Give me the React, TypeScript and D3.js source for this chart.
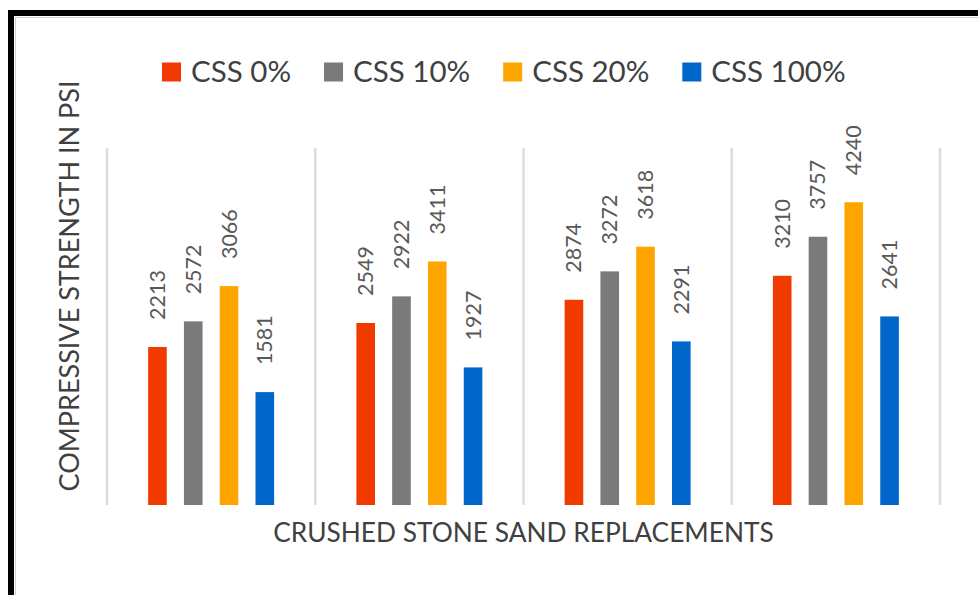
import * as d3 from 'd3';
import { useEffect, useRef } from 'react';

const categories = ['0', '1', '2', '3'];
const seriesNames = ['CSS 0%', 'CSS 10%', 'CSS 20%', 'CSS 100%'];
const colors = ['#F03A00', '#7A7A7A', '#FFA500', '#0066CC'];
const css0 = [2213, 2549, 2874, 3210];
const css10 = [2572, 2922, 3272, 3757];
const css20 = [3066, 3411, 3618, 4240];
const css100 = [1581, 1927, 2291, 2641];
const yTitle = 'COMPRESSIVE STRENGTH IN PSI';
const xTitle = 'CRUSHED STONE SAND REPLACEMENTS';

const font = 'Lato, "Open Sans", sans-serif';

const drawChart = (container: HTMLElement) => {
  const width = 978;
  const height = 595;
  const left = 107;
  const right = 940;
  const top = 148;
  const bottom = 505;
  const series = [css0, css10, css20, css100];

  const x0 = d3.scaleBand().domain(categories).range([left, right]).padding(0);
  const x1 = d3.scaleBand().domain(seriesNames)
    .range([0, x0.bandwidth()])
    .paddingInner(0.48)
    .paddingOuter(1.15);
  const y = d3.scaleLinear().domain([0, 5000]).range([bottom, top]);

  const svg = d3.select(container).append('svg')
    .attr('width', width)
    .attr('height', height)
    .attr('viewBox', `0 0 ${width} ${height}`)
    .style('position', 'absolute')
    .style('left', '0px')
    .style('top', '0px')
    .style('background', '#fff');

  // outer frame (cut off at right and bottom)
  svg.append('rect')
    .attr('x', 11).attr('y', 13)
    .attr('width', 1000).attr('height', 620)
    .attr('fill', '#fff')
    .attr('stroke', '#000')
    .attr('stroke-width', 6);
  svg.append('path')
    .attr('d', 'M15,17.5H978M15.5,17V595')
    .attr('stroke', '#d0d0d0')
    .attr('stroke-width', 1);

  // vertical gridlines at category boundaries
  const bounds = categories.map(c => x0(c) as number).concat([right]);
  svg.append('g').selectAll('line').data(bounds).join('line')
    .attr('x1', d => d).attr('x2', d => d)
    .attr('y1', top).attr('y2', bottom)
    .attr('stroke', '#DCDCDC')
    .attr('stroke-width', 2.5);

  const groups = svg.append('g').selectAll('g').data(categories).join('g')
    .attr('transform', c => `translate(${x0(c)},0)`);

  seriesNames.forEach((name, si) => {
    const vals = series[si];
    groups.append('rect')
      .attr('x', x1(name) as number)
      .attr('y', (c, i) => y(vals[i]))
      .attr('width', x1.bandwidth())
      .attr('height', (c, i) => bottom - y(vals[i]))
      .attr('fill', colors[si]);
    groups.append('text')
      .attr('transform', (c, i) =>
        `translate(${(x1(name) as number) + x1.bandwidth() / 2 + 7.5},${y(vals[i]) - 27}) rotate(-90)`)
      .attr('font-family', font)
      .attr('font-size', 21.5)
      .attr('fill', '#595959')
      .text((c, i) => String(vals[i]));
  });

  // legend
  const legend = svg.append('g');
  let lx = 162;
  seriesNames.forEach((name, i) => {
    legend.append('rect')
      .attr('x', lx).attr('y', 62.5)
      .attr('width', 19).attr('height', 19)
      .attr('fill', colors[i]);
    const t = legend.append('text')
      .attr('x', lx + 29).attr('y', 82)
      .attr('font-family', font)
      .attr('font-size', 29.5)
      .attr('fill', '#404040')
      .text(name);
    const w = (t.node() as SVGTextElement).getComputedTextLength();
    lx += 29 + w + 33;
  });

  // axis titles
  svg.append('text')
    .attr('transform', `translate(79,286) rotate(-90)`)
    .attr('text-anchor', 'middle')
    .attr('font-family', font)
    .attr('font-size', 27)
    .attr('fill', '#404040')
    .text(yTitle);
  svg.append('text')
    .attr('x', (left + right) / 2).attr('y', 542)
    .attr('text-anchor', 'middle')
    .attr('font-family', font)
    .attr('font-size', 26.3)
    .attr('fill', '#404040')
    .text(xTitle);

  return svg.node();
};

export default function App() {
  const domRef = useRef<HTMLDivElement>(null);
  useEffect(() => {
    if (domRef.current) {
      drawChart(domRef.current);
    }
    return () => {
      d3.select(domRef.current).selectAll('svg').remove();
    };
  }, [domRef]);
  return <div ref={domRef}></div>;
}
